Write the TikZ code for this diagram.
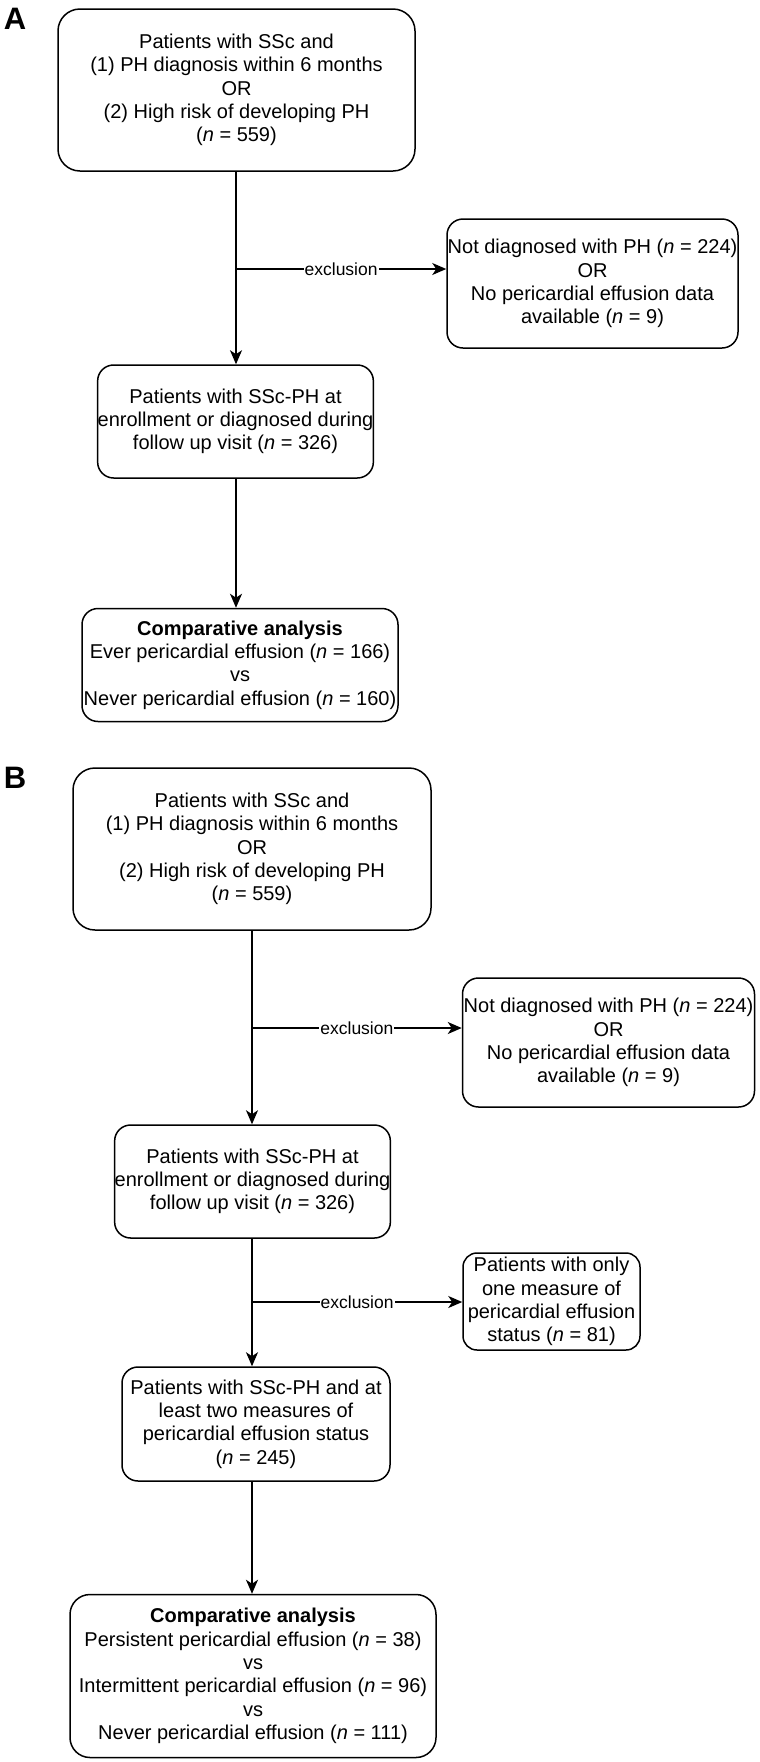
\documentclass[tikz,border=0pt]{standalone}
\usepackage{fontspec}
\setmainfont{Liberation Sans}
\usetikzlibrary{arrows.meta}

\tikzset{
  flowbox/.style={draw, line width=1.5pt, rounded corners=16pt, align=center,
    inner sep=0pt, font=\fontsize{20}{23.3}\selectfont},
  flowarr/.style={line width=1.5pt, -{Stealth[length=14pt,width=12pt,inset=4pt]}},
  exlabel/.style={fill=white, inner sep=1pt, font=\fontsize{17.5}{20}\selectfont},
  panel/.style={font=\fontsize{31}{31}\selectfont\bfseries}
}
\newcommand{\nval}[1]{(\textit{n} = #1)}

\begin{document}
\begin{tikzpicture}[x=1pt,y=-1pt]
        \useasboundingbox (0,0) rectangle (760,1762);
        % panel A
        \node[panel] (labA) at (15,19) {A};
        \node[flowbox, rounded corners=22pt, minimum width=357pt, minimum height=162pt] (a1) at (236.5,90)
        {Patients with SSc and\\ (1) PH diagnosis within 6 months\\ OR\\ (2) High risk of developing PH\\ \nval{559}};
        \node[flowbox, minimum width=291pt, minimum height=129pt] (exA) at (592.5,283.5)
        {Not diagnosed with PH \nval{224}\\ OR\\ No pericardial effusion data\\ available \nval{9}};
        \node[flowbox, minimum width=275pt, minimum height=113pt] (a2) at (235.5,421.5)
        {Patients with SSc-PH at\\ enrollment or diagnosed during\\ follow up visit \nval{326}};
        \node[flowbox, minimum width=316pt, minimum height=113pt] (a3) at (240,665)
        {\textbf{Comparative analysis}\\ Ever pericardial effusion \nval{166}\\ vs\\ Never pericardial effusion \nval{160}};
        \coordinate (forkA) at (236,269);
        \draw[flowarr] (a1.south -| forkA) -- (a2.north -| forkA);
        \draw[flowarr] (forkA) -- node[exlabel] {exclusion} (forkA -| exA.west);
        \draw[flowarr] (a2.south -| forkA) -- (a3.north -| forkA);

        % panel B
        \node[panel] (labB) at (15,778) {B};
        \node[flowbox, rounded corners=22pt, minimum width=358pt, minimum height=162pt] (b1) at (252,849)
        {Patients with SSc and\\ (1) PH diagnosis within 6 months\\ OR\\ (2) High risk of developing PH\\ \nval{559}};
        \node[flowbox, minimum width=292pt, minimum height=129pt] (exB) at (608.5,1042.5)
        {Not diagnosed with PH \nval{224}\\ OR\\ No pericardial effusion data\\ available \nval{9}};
        \node[flowbox, minimum width=275pt, minimum height=113pt] (b2) at (252.5,1181.5)
        {Patients with SSc-PH at\\ enrollment or diagnosed during\\ follow up visit \nval{326}};
        \node[flowbox, rounded corners=14pt, minimum width=177pt, minimum height=97pt] (exC) at (551.5,1301.5)
        {Patients with only\\ one measure of\\ pericardial effusion\\ status \nval{81}};
        \node[flowbox, minimum width=268pt, minimum height=114pt] (b3) at (256,1424)
        {Patients with SSc-PH and at\\ least two measures of\\ pericardial effusion status\\ \nval{245}};
        \node[flowbox, rounded corners=20pt, minimum width=366pt, minimum height=163pt] (b4) at (253,1676)
        {\textbf{Comparative analysis}\\ Persistent pericardial effusion \nval{38}\\ vs\\ Intermittent pericardial effusion \nval{96}\\ vs\\ Never pericardial effusion \nval{111}};
        \coordinate (forkB) at (252,1028);
        \coordinate (forkC) at (252,1302);
        \draw[flowarr] (b1.south -| forkB) -- (b2.north -| forkB);
        \draw[flowarr] (forkB) -- node[exlabel] {exclusion} (forkB -| exB.west);
        \draw[flowarr] (b2.south -| forkC) -- (b3.north -| forkC);
        \draw[flowarr] (forkC) -- node[exlabel] {exclusion} (forkC -| exC.west);
        \draw[flowarr] (b3.south -| forkC) -- (b4.north -| forkC);
       \end{tikzpicture}
\end{document}
